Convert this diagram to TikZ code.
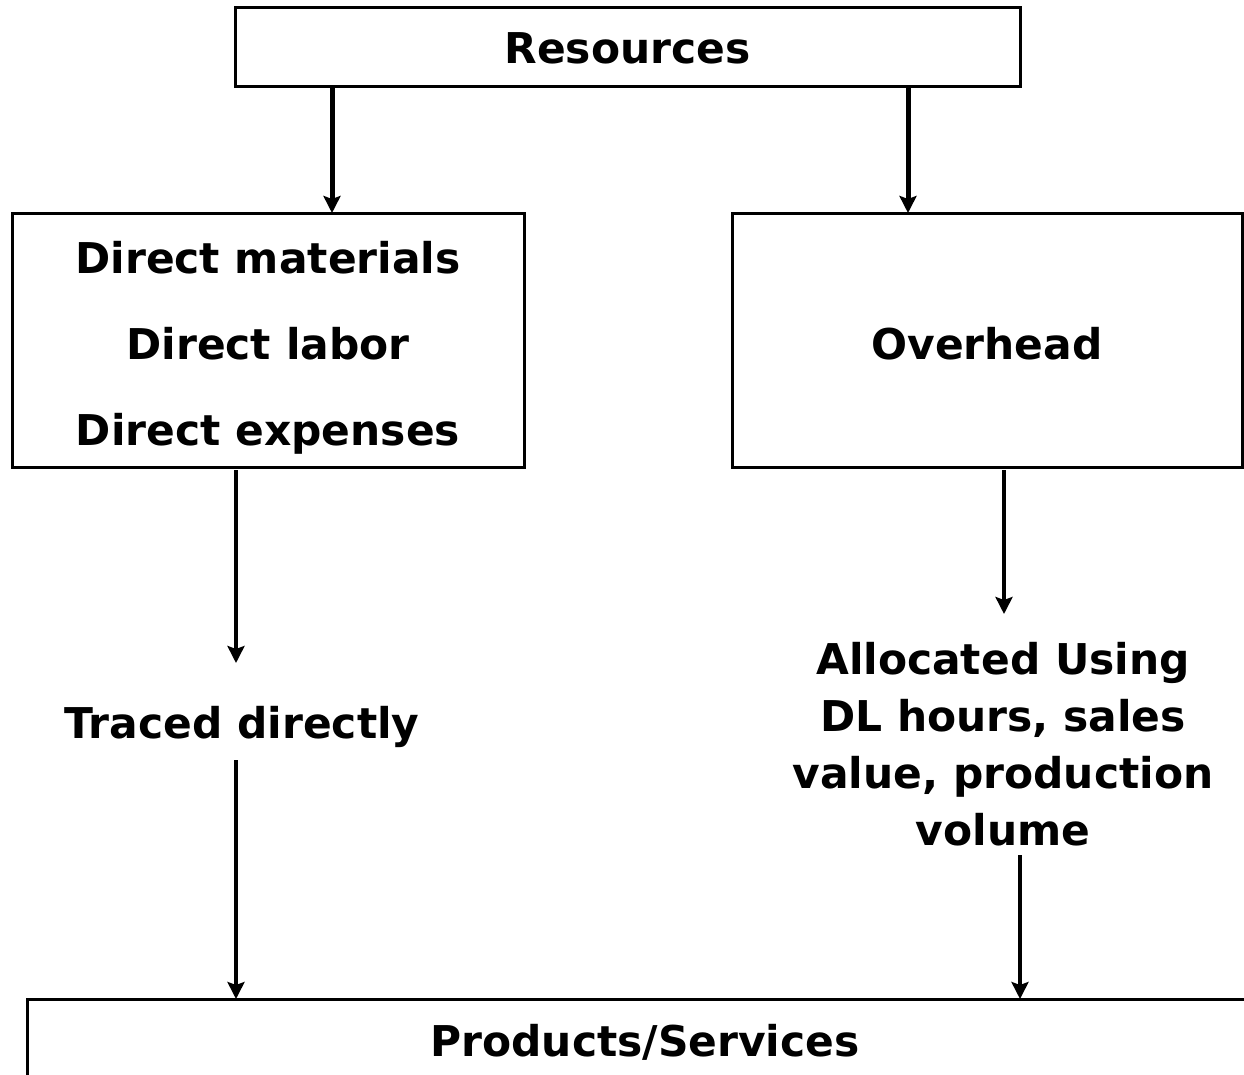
\documentclass[tikz,border=0pt]{standalone}
\usepackage{fontspec}
\setmainfont{DejaVu Sans}
\usetikzlibrary{arrows.meta}
\begin{document}
\begin{tikzpicture}[x=1pt,y=-1pt,
  box/.style={draw=black,line width=3pt,fill=white},
  lbl/.style={font=\fontsize{42.4}{57}\selectfont\bfseries,anchor=base,inner sep=0pt,align=center},
  arr/.style={line width=4pt,-{Stealth[length=17pt,width=17pt,inset=3pt]}}]
\useasboundingbox (0,0) rectangle (1244,1074);
\clip (0,0) rectangle (1244,1074);
\fill[white] (0,0) rectangle (1244,1074);
% boxes
\draw[box] (235,7) rectangle (1020,86);
\draw[box] (12,213) rectangle (524,467);
\draw[box] (732,213) rectangle (1242,467);
\draw[box] (27,999) rectangle (1300,1120);
% texts
\node[lbl] (resT) at (627.5,63) {Resources};
\node[lbl] (dm) at (268,273) {Direct materials};
\node[lbl] (dl) at (268,359) {Direct labor};
\node[lbl] (de) at (268,445) {Direct expenses};
\node[lbl] (ov) at (987,359) {Overhead};
\node[lbl] (tr) at (242,738) {Traced directly};
\node[lbl] (al) at (1003,845) {Allocated Using\\DL hours, sales\\value, production\\volume};
\node[lbl] (ps) at (645,1056) {Products/Services};
% connector end points
\coordinate (a1s) at (332,88);  \coordinate (a1e) at (332,213);
\coordinate (a2s) at (908,88);  \coordinate (a2e) at (908,213);
\coordinate (a3s) at (236,470); \coordinate (a3e) at (236,663);
\coordinate (a4s) at (1004,470); \coordinate (a4e) at (1004,614);
\coordinate (a5s) at (236,760); \coordinate (a5e) at (236,999);
\coordinate (a6s) at (1020,855); \coordinate (a6e) at (1020,999);
\draw[arr,line width=5pt] (a1s) -- (a1e);
\draw[arr,line width=5pt] (a2s) -- (a2e);
\draw[arr] (a3s) -- (a3e);
\draw[arr] (a4s) -- (a4e);
\draw[arr] (a5s) -- (a5e);
\draw[arr] (a6s) -- (a6e);
\end{tikzpicture}
\end{document}
